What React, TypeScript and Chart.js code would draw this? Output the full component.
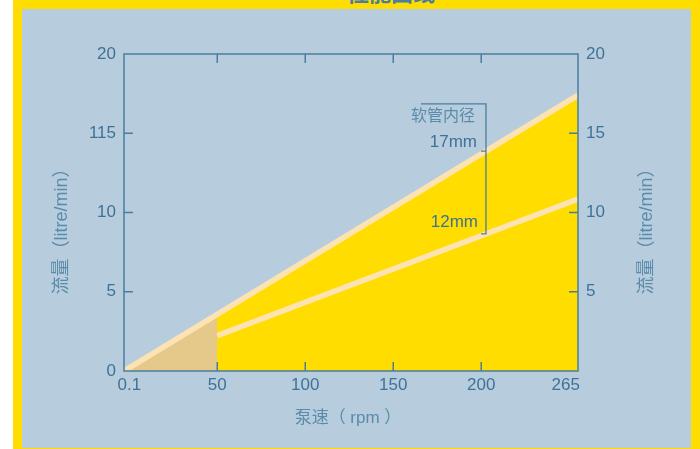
import React, { useEffect, useRef } from 'react';
import { Chart, registerables } from 'chart.js';

Chart.register(...registerables);

// ---- data ----
const X_MIN = -3;
const X_MAX = 255;
const xTickValues = [0, 50, 100, 150, 200, 248];
const xTickLabels = ['0.1', '50', '100', '150', '200', '265'];
const xInnerTicks = [50, 100, 150, 200];

const yLeftTickValues = [0, 5, 10, 15, 20];
const yLeftTickLabels = ['0', '5', '10', '115', '20'];
const yRightTickValues = [5, 10, 15, 20];
const yRightTickLabels = ['5', '10', '15', '20'];
const yInnerTicks = [5, 10, 15];

const hose17Rpm = [X_MIN, X_MAX];
const hose17Flow = [0, 17.4];
const hose12Rpm = [50, X_MAX];
const hose12Flow = [2.23, 10.85];
const lowRangeRpm = [X_MIN, 50];
const lowRangeFlow = [0, 3.57];

const bracketRpm = 202.7;
const bracketTopFlow = 16.85;
const bracketMidFlow = 13.87;
const bracketBottomFlow = 8.65;
const legendTitle = '软管内径';
const legendTitleFlow = 16.05;
const label17 = '17mm';
const label17Flow = 14.4;
const label12 = '12mm';
const label12Flow = 9.35;

const chartTitle = '性能曲线';
const xTitle = '泵速（ rpm ）';
const yTitle = '流量（litre/min）';

// ---- styles ----
const YELLOW = '#FFDD00';
const CREAM = '#FDE3B2';
const TAN = '#E5C98A';
const BG = '#B7CDDD';
const AXIS = '#4A7D9E';
const LABEL = '#3F7297';
const TITLE = '#5A8BAB';
const FONT = '"Liberation Sans", Arial, "Noto Sans CJK SC", sans-serif';

const pts = (xs: number[], ys: number[]) => xs.map((x, i) => ({ x, y: ys[i] }));

const framePlugin = {
  id: 'frame',
  afterDatasetsDraw(chart: any) {
    const { ctx, chartArea: a, scales } = chart;
    const xs = scales.x;
    const ys = scales.y;
    ctx.save();
    ctx.strokeStyle = AXIS;
    ctx.lineWidth = 1.5;
    ctx.strokeRect(a.left, a.top, a.right - a.left, a.bottom - a.top);
    const tl = 9;
    ctx.beginPath();
    xInnerTicks.forEach((v) => {
      const px = xs.getPixelForValue(v);
      ctx.moveTo(px, a.bottom);
      ctx.lineTo(px, a.bottom - tl);
      ctx.moveTo(px, a.top);
      ctx.lineTo(px, a.top + tl);
    });
    yInnerTicks.forEach((v) => {
      const py = ys.getPixelForValue(v);
      ctx.moveTo(a.left, py);
      ctx.lineTo(a.left + tl, py);
      ctx.moveTo(a.right, py);
      ctx.lineTo(a.right - tl, py);
    });
    ctx.stroke();

    // bracket annotation
    const bx = xs.getPixelForValue(bracketRpm);
    const bTop = ys.getPixelForValue(bracketTopFlow);
    const bMid = ys.getPixelForValue(bracketMidFlow);
    const bBot = ys.getPixelForValue(bracketBottomFlow);
    ctx.lineWidth = 1.3;
    ctx.beginPath();
    ctx.moveTo(bx - 65, bTop);
    ctx.lineTo(bx, bTop);
    ctx.lineTo(bx, bBot);
    ctx.lineTo(bx - 5, bBot);
    ctx.moveTo(bx, bMid);
    ctx.lineTo(bx - 5, bMid);
    ctx.stroke();

    ctx.textAlign = 'right';
    ctx.textBaseline = 'middle';
    ctx.fillStyle = TITLE;
    ctx.font = '16px ' + FONT;
    ctx.fillText(legendTitle, bx - 11, ys.getPixelForValue(legendTitleFlow));
    ctx.fillStyle = LABEL;
    ctx.font = '17px ' + FONT;
    ctx.fillText(label17, bx - 9, ys.getPixelForValue(label17Flow));
    ctx.fillText(label12, bx - 8, ys.getPixelForValue(label12Flow));

    // axis titles
    ctx.fillStyle = TITLE;
    ctx.textAlign = 'center';
    ctx.font = '17px ' + FONT;
    ctx.fillText(xTitle, 348, 418);
    ctx.font = '18px ' + FONT;
    [62, 647].forEach((cx) => {
      ctx.save();
      ctx.translate(cx, 227);
      ctx.rotate(-Math.PI / 2);
      ctx.fillText(yTitle, 0, 0);
      ctx.restore();
    });
    ctx.restore();
  },
};

export default function App() {
  const ref = useRef<HTMLCanvasElement | null>(null);

  useEffect(() => {
    if (!ref.current) return;
    const tickFont = { family: FONT, size: 17 };
    const chart = new Chart(ref.current, {
      type: 'line',
      data: {
        datasets: [
          {
            label: 'fill17',
            data: pts(hose17Rpm, hose17Flow),
            fill: 'origin',
            backgroundColor: YELLOW,
            borderColor: 'transparent',
            borderWidth: 0,
            pointRadius: 0,
            order: 4,
          },
          {
            label: 'low',
            data: pts(lowRangeRpm, lowRangeFlow),
            fill: 'origin',
            backgroundColor: TAN,
            borderColor: 'transparent',
            borderWidth: 0,
            pointRadius: 0,
            order: 3,
          },
          {
            label: '12mm',
            data: pts(hose12Rpm, hose12Flow),
            fill: false,
            borderColor: CREAM,
            borderWidth: 5.5,
            pointRadius: 0,
            order: 2,
          },
          {
            label: '17mm',
            data: pts(hose17Rpm, hose17Flow),
            fill: false,
            borderColor: CREAM,
            borderWidth: 5.5,
            pointRadius: 0,
            order: 1,
          },
        ],
      },
      options: {
        responsive: false,
        animation: false,
        devicePixelRatio: 1,
        layout: { padding: { top: 54, left: 0, right: 0, bottom: 0 } },
        plugins: { legend: { display: false }, tooltip: { enabled: false } },
        elements: { line: { tension: 0 } },
        scales: {
          x: {
            type: 'linear',
            position: 'bottom',
            min: X_MIN,
            max: X_MAX,
            afterBuildTicks: (s: any) => {
              s.ticks = xTickValues.map((value) => ({ value }));
            },
            afterFit: (s: any) => {
              s.height = 78;
            },
            ticks: {
              autoSkip: false,
              maxRotation: 0,
              color: LABEL,
              font: tickFont,
              padding: 4,
              callback: (_v: any, i: number) => xTickLabels[i],
            },
            grid: { display: false, drawTicks: false },
            border: { display: false },
          },
          y: {
            type: 'linear',
            position: 'left',
            min: 0,
            max: 20,
            afterBuildTicks: (s: any) => {
              s.ticks = yLeftTickValues.map((value) => ({ value }));
            },
            afterFit: (s: any) => {
              s.width = 124;
            },
            ticks: {
              autoSkip: false,
              color: LABEL,
              font: tickFont,
              padding: 8,
              callback: (_v: any, i: number) => yLeftTickLabels[i],
            },
            grid: { display: false, drawTicks: false },
            border: { display: false },
          },
          y2: {
            type: 'linear',
            position: 'right',
            min: 0,
            max: 20,
            afterBuildTicks: (s: any) => {
              s.ticks = yRightTickValues.map((value) => ({ value }));
            },
            afterFit: (s: any) => {
              s.width = 122;
            },
            ticks: {
              autoSkip: false,
              color: LABEL,
              font: tickFont,
              padding: 8,
              callback: (_v: any, i: number) => yRightTickLabels[i],
            },
            grid: { display: false, drawTicks: false },
            border: { display: false },
          },
        },
      },
      plugins: [framePlugin],
    } as any);
    return () => chart.destroy();
  }, []);

  return (
    <div
      style={{
        position: 'absolute',
        left: 0,
        top: 0,
        width: 700,
        height: 449,
        overflow: 'hidden',
        background: '#ffffff',
      }}
    >
      <div
        style={{
          position: 'absolute',
          left: 13,
          top: 0,
          width: 687,
          height: 449,
          background: YELLOW,
        }}
      />
      <div
        style={{
          position: 'absolute',
          left: 22,
          top: 9,
          width: 669,
          height: 439,
          background: BG,
        }}
      />
      <div
        style={{
          position: 'absolute',
          left: 291,
          top: -20,
          width: 200,
          textAlign: 'center',
          fontFamily: '"Noto Sans CJK SC", sans-serif',
          fontWeight: 'bold',
          fontSize: 22,
          lineHeight: '22px',
          color: AXIS,
        }}
      >
        {chartTitle}
      </div>
      <canvas
        ref={ref}
        width={700}
        height={449}
        style={{ position: 'absolute', left: 0, top: 0, width: 700, height: 449 }}
      />
    </div>
  );
}
